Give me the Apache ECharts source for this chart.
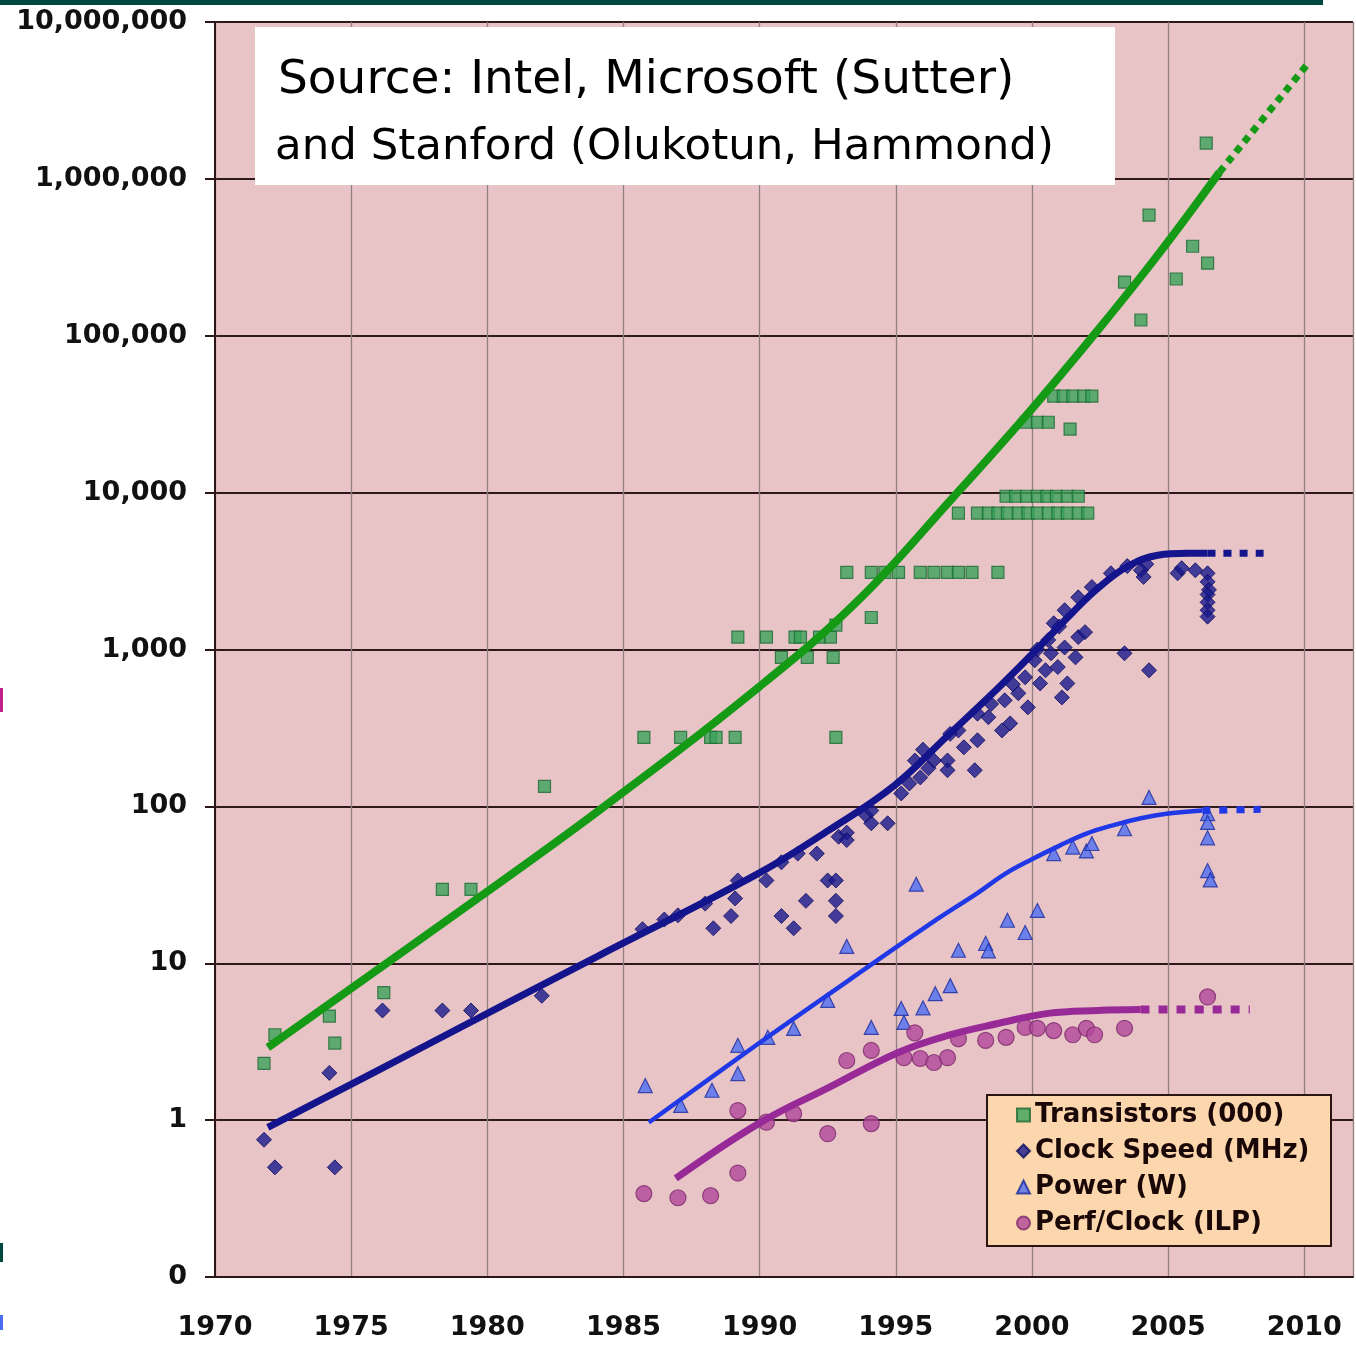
<!DOCTYPE html>
<html>
<head>
<meta charset="utf-8">
<script src="https://cdn.jsdelivr.net/npm/echarts@6/dist/echarts.min.js"></script>
<style>
html,body{margin:0;padding:0;background:#ffffff;}
#chart{width:1356px;height:1345px;}
</style>
</head>
<body>
<div id="chart"></div>
<script>
// ---------- DATA ----------
const seriesNames = ['Transistors (000)', 'Clock Speed (MHz)', 'Power (W)', 'Perf/Clock (ILP)'];
const sourceLines = ['Source: Intel, Microsoft (Sutter)', 'and Stanford (Olukotun, Hammond)'];

const transistors = [
  [1971.8,2.3],[1972.2,3.5],[1974.2,4.6],[1974.4,3.1],[1976.2,6.5],[1978.35,29.6],[1979.4,29.6],[1982.1,134],
  [1985.75,275],[1987.1,275],[1988.2,275],[1988.4,275],[1989.1,275],[1992.8,275],
  [1989.2,1200],[1990.25,1200],[1991.3,1200],[1991.5,1200],[1992.2,1200],[1992.6,1200],[1992.8,1430],[1994.1,1600],
  [1990.8,891],[1991.75,891],[1992.7,891],
  [1993.2,3100],[1994.1,3100],[1994.6,3100],[1995.1,3100],[1995.9,3100],[1996.4,3100],[1996.9,3100],[1997.3,3100],[1997.8,3100],[1998.75,3100],
  [1997.3,7400],[1998.0,7400],[1998.4,7400],[1998.75,7400],[1999.1,7400],[1999.5,7400],[1999.85,7400],[2000.2,7400],[2000.6,7400],[2000.95,7400],[2001.3,7400],[2001.7,7400],[2002.05,7400],
  [1999.05,9480],[1999.4,9480],[1999.8,9480],[2000.2,9480],[2000.55,9480],[2000.9,9480],[2001.3,9480],[2001.7,9480],
  [1999.8,28100],[2000.2,28100],[2000.6,28100],[2001.4,25400],
  [2000.8,41200],[2001.15,41200],[2001.5,41200],[2001.9,41200],[2002.2,41200],
  [2003.4,220000],[2004.0,126000],[2004.3,588000],[2005.3,230000],[2005.9,372000],[2006.45,290000],[2006.4,1690000]
];

const clockSpeed = [
  [1971.8,0.75],[1972.2,0.5],[1974.4,0.5],[1974.2,2.0],[1976.15,5],[1978.35,5],[1979.4,5],[1982.0,6.2],
  [1985.7,16.5],[1986.5,19],[1987.0,20.2],[1988.0,24],[1988.3,16.7],[1988.95,20],[1989.1,25.9],[1989.2,33.7],
  [1990.25,33.7],[1990.8,20],[1990.8,44],[1991.25,16.7],[1991.4,50],[1991.7,25],[1992.1,50],[1992.5,33.7],
  [1992.8,33.7],[1992.8,25],[1992.8,20],[1992.9,64],[1993.2,68],[1993.2,61],[1993.9,88],[1994.1,78],[1994.7,78],[1994.1,94],
  [1995.2,121],[1995.5,140],[1995.7,196],[1995.9,153],[1996.0,230],[1996.2,175],[1996.4,196],[1996.9,196],[1996.9,170],
  [1997.0,290],[1997.3,305],[1997.5,238],[1997.9,170],[1998.0,264],[1998.0,390],[1998.4,370],[1998.5,450],[1998.9,305],
  [1999.2,338],[1999.0,474],[1999.3,600],[1999.5,526],[1999.85,428],[1999.75,665],[2000.1,853],[2000.2,1000],
  [2000.5,737],[2000.3,608],[2000.6,1150],[2000.7,946],[2000.95,773],[2001.0,1400],[2001.1,495],[2001.3,608],
  [2001.2,1030],[2001.7,1200],[2001.95,1290],[2001.6,891],[2000.8,1470],[2001.2,1780],[2001.7,2150],[2002.2,2500],
  [2002.9,3060],[2003.5,3400],[2004.2,3500],[2003.4,946],[2004.3,737],[2004.0,3200],[2004.1,2900],
  [2005.35,3060],[2005.5,3300],[2006.0,3200],[2006.45,3060],[2006.45,2700],[2006.5,2400],[2006.45,2240],
  [2006.45,2000],[2006.45,1780],[2006.45,1620]
];

const power = [
  [1985.8,1.66],[1987.1,1.24],[1988.25,1.55],[1989.2,1.98],[1989.2,3.0],[1990.3,3.37],[1991.25,3.84],[1992.5,5.8],
  [1994.1,3.9],[1995.2,5.15],[1995.3,4.2],[1996.0,5.2],[1996.45,6.4],[1997.0,7.2],[1993.2,12.8],[1995.75,31.9],
  [1997.3,12.1],[1998.3,13.4],[1998.4,12],[1999.1,18.8],[1999.75,15.7],[2000.2,21.7],[2000.8,50],[2001.5,55],
  [2002.0,52],[2002.2,58],[2003.4,72],[2004.3,114],[2006.45,90],[2006.45,79],[2006.45,63],[2006.45,39],[2006.55,34]
];

const perfClock = [
  [1985.75,0.34],[1987.0,0.32],[1988.2,0.33],[1989.2,0.46],[1989.2,1.15],[1990.25,0.97],[1991.25,1.10],[1992.5,0.82],
  [1994.1,0.95],[1993.2,2.4],[1994.1,2.78],[1995.3,2.5],[1995.7,3.6],[1995.9,2.47],[1996.4,2.33],[1996.9,2.5],
  [1997.3,3.3],[1998.3,3.22],[1999.05,3.37],[1999.75,3.9],[2000.2,3.85],[2000.8,3.72],[2001.5,3.5],[2002.0,3.85],
  [2002.3,3.5],[2003.4,3.85],[2006.45,6.1]
];

// trend curves
const transTrend = [[1971.94,2.9],[1978.61,19.3],[1984.1,94.2],[1989.96,574],[1993.63,2063],[1997.11,9350],[1999.96,33600],[2002.42,108600],[2004.62,326600],[2006.89,1104000]];
const transTrendExt = [[2006.89,1104000],[2010.2,5600000]];
const clockTrend = [[1971.94,0.898],[1977.88,3.08],[1984.1,11.2],[1989.96,37.4],[1992.53,70.3],[1994.95,136],[1996.92,284],[1998.75,566],[2000.22,1019],[2001.5,1727],[2002.42,2455],[2003.52,3393],[2004.62,3990],[2005.71,4100],[2006.45,4100]];
const clockTrendExt = [[2006.45,4100],[2008.6,4100]];
const powerTrend = [[1985.93,0.966],[1989.96,3.08],[1993.26,7.76],[1996.56,19.3],[1998.0,28],[1999.0,37],[2000.0,46],[2001.0,56],[2002.0,67],[2003.0,76],[2004.0,84],[2005.0,90],[2006.26,94.2]];
const powerTrendExt = [[2006.26,94.2],[2008.4,95.7]];
const ilpTrend = [[1986.92,0.425],[1989.96,0.95],[1992.53,1.61],[1995.09,2.7],[1996.92,3.47],[1998.75,4.13],[2000.59,4.79],[2002.42,5.0],[2003.99,5.07]];
const ilpTrendExt = [[2003.99,5.07],[2008.0,5.07]];

// ---------- CHART ----------
const chart = echarts.init(document.getElementById('chart'), null, {renderer: 'canvas'});
const dark = '#2a1616';

function trend(data, color, width, dash, z) {
  return {
    type: 'line', data: data, showSymbol: false, symbol: 'none', smooth: 0.4,
    lineStyle: {color: color, width: width, type: dash || 'solid', cap: 'butt'},
    z: z || 3, silent: true, tooltip: {show: false}, legendHoverLink: false
  };
}

const option = {
  animation: false,
  backgroundColor: '#ffffff',
  grid: {left: 215, top: 22, right: 0, bottom: 68, show: true, backgroundColor: '#e8c4c7', borderWidth: 0},
  xAxis: {
    type: 'value', min: 1970, max: 2011.79, interval: 5,
    axisLine: {show: true, onZero: false, lineStyle: {color: dark, width: 2}},
    axisTick: {show: false},
    axisLabel: {
      margin: 37, fontFamily: 'DejaVu Sans', fontWeight: 'bold', fontSize: 27, color: '#111',
      formatter: function (v) { return Math.abs(v % 5) < 1e-6 ? String(Math.round(v)) : ''; }
    },
    splitLine: {show: true, lineStyle: {color: '#927f7f', width: 1.3}}
  },
  yAxis: {
    type: 'log', logBase: 10, min: 0.1, max: 1e7, splitNumber: 8,
    axisLine: {show: true, onZero: false, lineStyle: {color: dark, width: 2}},
    axisTick: {show: true, length: 10, lineStyle: {color: dark, width: 2}},
    axisLabel: {
      margin: 28, fontFamily: 'DejaVu Sans', fontWeight: 'bold', fontSize: 27, color: '#111',
      formatter: function (v) { return v < 0.5 ? '0' : Math.round(v).toLocaleString('en-US'); }
    },
    splitLine: {show: true, lineStyle: {color: '#2e1a1a', width: 2}},
    minorTick: {show: false}, minorSplitLine: {show: false}
  },
  legend: {
    data: seriesNames, orient: 'vertical', left: 1011, top: 1097, itemGap: 10,
    itemWidth: 13, itemHeight: 13, selectedMode: false, z: 30,
    textStyle: {fontFamily: 'DejaVu Sans', fontWeight: 'bold', fontSize: 26, color: '#1a0808', lineHeight: 26}
  },
  series: [
    {name: seriesNames[0], type: 'scatter', data: transistors, symbol: 'rect', symbolSize: 12, z: 2,
      itemStyle: {color: '#3aa35a', borderColor: '#1c6a33', borderWidth: 1.2}},
    {name: seriesNames[1], type: 'scatter', data: clockSpeed, symbol: 'diamond', symbolSize: 15, z: 2,
      itemStyle: {color: '#19198c', borderColor: '#0c0c5e', borderWidth: 1}},
    {name: seriesNames[2], type: 'scatter', data: power, symbol: 'triangle', symbolSize: 14, z: 2,
      itemStyle: {color: '#4d6ff2', borderColor: '#1b2a9c', borderWidth: 1.2}},
    {name: seriesNames[3], type: 'scatter', data: perfClock, symbol: 'circle', symbolSize: 16, z: 2,
      itemStyle: {color: '#b0479a', borderColor: '#7d2a6c', borderWidth: 1.2}},
    trend(transTrend, '#159a15', 8),
    trend(transTrendExt, '#159a15', 7, [7, 6]),
    trend(clockTrend, '#14148c', 7),
    trend(clockTrendExt, '#14148c', 7, [8, 8]),
    trend(powerTrend, '#2138e6', 4.5),
    trend(powerTrendExt, '#2138e6', 7, [8, 9]),
    trend(ilpTrend, '#982a98', 7),
    trend(ilpTrendExt, '#982a98', 8, [9, 9])
  ],
  graphic: [
    {type: 'rect', left: 0, top: 0, shape: {width: 1323, height: 5}, style: {fill: '#00473e'}, z: 50},
    {type: 'rect', left: 0, top: 688, shape: {width: 3, height: 24}, style: {fill: '#c0208f'}, z: 50},
    {type: 'rect', left: 0, top: 1243, shape: {width: 3, height: 19}, style: {fill: '#00473e'}, z: 50},
    {type: 'rect', left: 0, top: 1315, shape: {width: 3, height: 15}, style: {fill: '#4a6cf0'}, z: 50},
    {type: 'rect', left: 255, top: 27, shape: {width: 860, height: 158}, style: {fill: '#ffffff'}, z: 20},
    {type: 'text', left: 278, top: 57, z: 21,
      style: {text: sourceLines[0], font: '47px "DejaVu Sans"', fill: '#000'}},
    {type: 'text', left: 275, top: 126, z: 21,
      style: {text: sourceLines[1], font: '43.5px "DejaVu Sans"', fill: '#000'}},
    {type: 'rect', left: 986, top: 1094, shape: {width: 344, height: 151},
      style: {fill: '#fcd6ac', stroke: '#2a1414', lineWidth: 2}, z: 20}
  ]
};
chart.setOption(option);
</script>
</body>
</html>
